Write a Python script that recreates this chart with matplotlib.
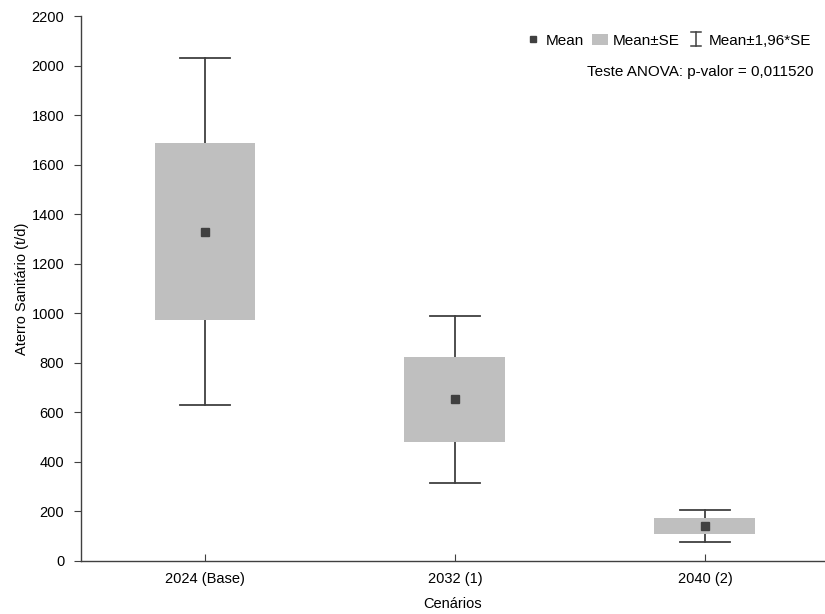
import matplotlib
matplotlib.use("Agg")
import matplotlib.pyplot as plt
from matplotlib.lines import Line2D
from matplotlib.patches import Patch, Rectangle
from matplotlib.legend_handler import HandlerBase

plt.rcParams['font.family'] = ['Liberation Sans', 'DejaVu Sans']

categories = ["2024 (Base)", "2032 (1)", "2040 (2)"]
means = [1330, 652, 142]
se = [358, 171, 33]
yticks = [0, 200, 400, 600, 800, 1000, 1200, 1400, 1600, 1800, 2000, 2200]

box_color = "#BFBFBF"
line_color = "#404040"

fig = plt.figure(figsize=(8.25, 6.14), dpi=100)
ax = fig.add_axes([81 / 825, 1 - 561 / 614, (825 - 81) / 825, (561 - 16) / 614])

positions = list(range(1, len(categories) + 1))
box_w = 0.404
cap_w = 0.2
for x, m, s in zip(positions, means, se):
    lo, hi = m - 1.96 * s, m + 1.96 * s
    ax.plot([x, x], [lo, hi], color=line_color, lw=1.3, zorder=1)
    ax.plot([x - cap_w / 2, x + cap_w / 2], [hi, hi], color=line_color, lw=1.3, zorder=1)
    ax.plot([x - cap_w / 2, x + cap_w / 2], [lo, lo], color=line_color, lw=1.3, zorder=1)
    ax.add_patch(Rectangle((x - box_w / 2, m - s), box_w, 2 * s,
                           facecolor=box_color, edgecolor="none", zorder=2))
ax.plot(positions, means, linestyle="none", marker="s", markersize=6,
        color=line_color, zorder=3)

ax.set_xlim(0.504, 3.48)
ax.set_ylim(0, 2200)
ax.set_xticks(positions)
ax.set_xticklabels(categories)
ax.set_yticks(yticks)
ax.set_yticklabels([str(t) for t in yticks])
for side in ("top", "right"):
    ax.spines[side].set_visible(False)
for side in ("left", "bottom"):
    ax.spines[side].set_color("#404040")
    ax.spines[side].set_linewidth(1.0)
ax.tick_params(axis="x", direction="in", length=5, color="#404040",
               labelsize=10.5, pad=8)
ax.tick_params(axis="y", direction="out", length=5, color="#404040",
               labelsize=10.5, pad=7)
ax.set_xlabel("Cenários", fontsize=10.5)
ax.set_ylabel("Aterro Sanitário (t/d)", fontsize=10.5)
ax.xaxis.set_label_coords(0.5, -0.066)
ax.yaxis.set_label_coords(-0.070, 0.5)


class ErrorBarHandler(HandlerBase):
    def create_artists(self, legend, orig_handle, xdescent, ydescent,
                       width, height, fontsize, trans):
        cx = width / 2 - xdescent
        y0 = -ydescent - 1
        y1 = height - ydescent + 1
        cw = width * 0.3
        kw = dict(color=line_color, lw=1.1, transform=trans)
        return [Line2D([cx, cx], [y0, y1], **kw),
                Line2D([cx - cw, cx + cw], [y0, y0], **kw),
                Line2D([cx - cw, cx + cw], [y1, y1], **kw)]


handles = [
    Line2D([], [], linestyle="none", marker="s", markersize=5, color=line_color),
    Patch(facecolor=box_color, edgecolor="none"),
    object(),
]
labels = ["Mean", "Mean±SE", "Mean±1,96*SE"]
ax.legend(handles, labels, ncol=3, frameon=False, fontsize=11,
          loc="upper right", bbox_to_anchor=(1.0, 0.993),
          handlelength=1.1, handletextpad=0.3, columnspacing=0.5,
          handler_map={object: ErrorBarHandler()})

ax.text(0.984, 0.897, "Teste ANOVA: p-valor = 0,011520", transform=ax.transAxes,
        ha="right", va="center", fontsize=11)

fig.savefig("out.png", dpi=100)
